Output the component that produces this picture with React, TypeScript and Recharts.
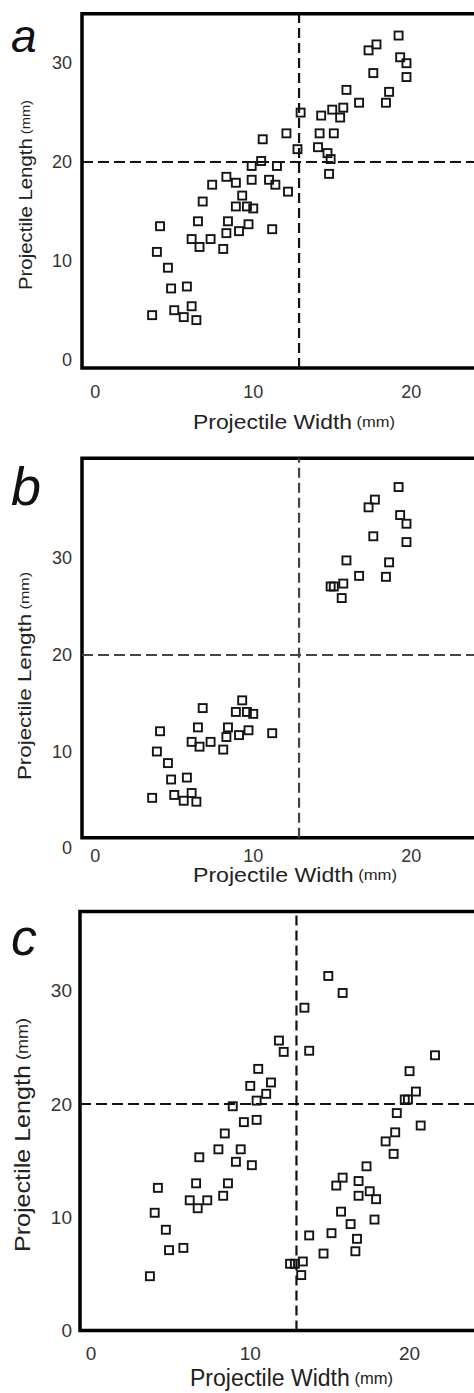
import React from "react";
import { ScatterChart, Scatter, XAxis, YAxis, ReferenceLine, ReferenceArea } from "recharts";

// [width, length] in mm for each projectile
const pointsA: [number, number][] = [
  [19.2, 32.8], [17.8, 31.9], [17.3, 31.3], [19.3, 30.6], [19.7, 30.0], [17.6, 29.0], [19.7, 28.6],
  [15.9, 27.3], [18.6, 27.1], [16.7, 26.0], [18.4, 26.0], [15.7, 25.5], [15.0, 25.3], [15.5, 24.5],
  [14.3, 24.7], [13.0, 25.0], [14.2, 22.9], [15.1, 22.9], [12.1, 22.9], [10.6, 22.3], [12.8, 21.3],
  [14.1, 21.5], [14.7, 20.9], [14.9, 20.3], [14.8, 18.8],
  [10.5, 20.1], [9.9, 19.6], [11.5, 19.6], [11.0, 18.2], [11.4, 17.7], [12.2, 17.0], [9.9, 18.2],
  [8.3, 18.5], [8.9, 17.9], [7.4, 17.7], [6.8, 16.0], [9.3, 16.6], [8.9, 15.5], [9.6, 15.5],
  [10.0, 15.3], [6.5, 14.0], [8.4, 14.0], [9.7, 13.7], [9.1, 13.0], [8.3, 12.8], [11.2, 13.2],
  [4.1, 13.5], [6.1, 12.2], [6.6, 11.4], [7.3, 12.2], [8.1, 11.2], [3.9, 10.9], [4.6, 9.3],
  [4.8, 7.2], [5.8, 7.4], [3.6, 4.5], [5.0, 5.0], [5.6, 4.3], [6.1, 5.4], [6.4, 4.0],
];

const pointsB: [number, number][] = [
  [19.2, 37.4], [17.7, 36.1], [17.3, 35.3], [19.3, 34.5], [19.7, 33.6], [17.6, 32.3], [19.7, 31.7],
  [15.9, 29.8], [18.6, 29.6], [16.7, 28.2], [18.4, 28.1], [14.9, 27.1], [15.1, 27.1], [15.7, 27.4],
  [15.6, 25.9],
  [9.3, 15.3], [6.8, 14.5], [8.9, 14.1], [9.6, 14.1], [10.0, 13.9], [6.5, 12.5], [8.4, 12.5],
  [9.7, 12.2], [9.1, 11.7], [8.3, 11.5], [11.2, 11.9], [4.1, 12.1], [6.1, 11.0], [6.6, 10.5],
  [7.3, 11.0], [8.1, 10.2], [3.9, 10.0], [4.6, 8.8], [4.8, 7.1], [5.8, 7.3], [3.6, 5.2],
  [5.0, 5.5], [5.6, 4.9], [6.1, 5.7], [6.4, 4.8],
];

const pointsC: [number, number][] = [
  [14.9, 31.3], [15.8, 29.8], [13.4, 28.5], [11.8, 25.6], [12.1, 24.6], [13.7, 24.7], [21.6, 24.3],
  [10.5, 23.1], [20.0, 22.9], [11.3, 21.9], [10.0, 21.6], [11.0, 20.9], [20.4, 21.1], [10.4, 20.3],
  [8.9, 19.8], [19.7, 20.4], [19.9, 20.4], [19.2, 19.2], [10.4, 18.6], [9.6, 18.4], [20.7, 18.1],
  [19.1, 17.5], [8.4, 17.4], [18.5, 16.7], [8.0, 16.0], [9.4, 16.0], [19.0, 15.6], [6.8, 15.3],
  [9.1, 14.9], [10.1, 14.6], [17.3, 14.5], [15.8, 13.5], [16.8, 13.2], [15.4, 12.8], [17.5, 12.3],
  [16.8, 11.9], [17.9, 11.6], [4.2, 12.6], [6.6, 13.0], [8.6, 13.0], [8.3, 11.9], [6.2, 11.5],
  [6.7, 10.8], [7.3, 11.5], [4.0, 10.4], [15.7, 10.5], [17.8, 9.8], [16.3, 9.4], [4.7, 8.9],
  [13.7, 8.4], [15.1, 8.6], [16.7, 8.1], [4.9, 7.1], [5.8, 7.3], [16.6, 7.0], [14.6, 6.8],
  [3.7, 4.8], [12.5, 5.9], [12.8, 5.9], [13.3, 6.1], [13.2, 4.9],
];

const xTicks = [0, 10, 20];
const yTicks = [0, 10, 20, 30];
const widthCut = 12.9;
const lengthCut = 20;

const FONT = "'Liberation Sans', Arial, Helvetica, sans-serif";
const CHART_W = 500;

function Square(props: any) {
  const { cx, cy } = props;
  if (cx == null || cy == null) return null;
  return <rect x={cx - 4} y={cy - 4} width={8} height={8} fill="none" stroke="#151515" strokeWidth={1.9} />;
}

function makeTick(size: number, anchor: "middle" | "end") {
  return (props: any) => (
    <text
      x={props.x}
      y={props.y}
      textAnchor={anchor}
      dominantBaseline="central"
      fontFamily={FONT}
      fontSize={size}
      fill="#333"
    >
      {props.payload.value}
    </text>
  );
}

// axis titles live in page coordinates so they can sit exactly where wanted
function AxisTitle({ x, y, vertical, length, size }: any) {
  return (
    <text
      x={x}
      y={y}
      transform={vertical ? `rotate(-90 ${x} ${y})` : undefined}
      textAnchor="middle"
      dominantBaseline="central"
      fontFamily={FONT}
      fontSize={size}
      fill="#222"
      textLength={length}
      lengthAdjust="spacingAndGlyphs"
    >
      {vertical ? "Projectile Length" : "Projectile Width"}
      <tspan fontSize={size * 0.72}> (mm)</tspan>
    </text>
  );
}

interface PanelProps {
  points: [number, number][];
  top: number;
  height: number;
  plotTop: number;
  plotBottom: number;
  yAxisWidth: number;
  xDomain: [number, number];
  yDomain: [number, number];
  xTickOffset: number;
  yTickOffset: number;
  tickSize: number;
  lineColor: string;
}

function Panel(p: PanelProps) {
  const data = p.points.map(([w, l]) => ({ w, l }));
  return (
    <div style={{ position: "absolute", left: 0, top: p.top }}>
      <ScatterChart
        width={CHART_W}
        height={p.height}
        margin={{ top: p.plotTop, right: 0, bottom: 0, left: 0 }}
      >
        <XAxis
          type="number"
          dataKey="w"
          domain={p.xDomain}
          allowDataOverflow
          ticks={xTicks}
          interval={0}
          height={p.height - p.plotBottom}
          axisLine={false}
          tickLine={false}
          tickSize={0}
          tickMargin={p.xTickOffset}
          tick={makeTick(p.tickSize, "middle")}
        />
        <YAxis
          type="number"
          dataKey="l"
          domain={p.yDomain}
          allowDataOverflow
          ticks={yTicks}
          interval={0}
          width={p.yAxisWidth}
          axisLine={false}
          tickLine={false}
          tickSize={0}
          tickMargin={p.yTickOffset}
          tick={makeTick(p.tickSize, "end")}
        />
        <ReferenceArea
          x1={p.xDomain[0]}
          x2={p.xDomain[1]}
          y1={p.yDomain[0]}
          y2={p.yDomain[1]}
          fill="none"
          stroke="#000"
          strokeWidth={3.5}
          ifOverflow="visible"
        />
        <ReferenceLine x={widthCut} stroke={p.lineColor} strokeWidth={2.2} strokeDasharray="10 5" />
        <ReferenceLine y={lengthCut} stroke={p.lineColor} strokeWidth={2.2} strokeDasharray="11 5" />
        <Scatter data={data} shape={Square} isAnimationActive={false} />
      </ScatterChart>
    </div>
  );
}

export default function App() {
  return (
    <div
      style={{
        position: "absolute",
        left: 0,
        top: 0,
        width: 474,
        height: 1393,
        overflow: "hidden",
        background: "#fff",
      }}
    >
      <Panel
        points={pointsA}
        top={0}
        height={440}
        plotTop={13.8}
        plotBottom={368}
        yAxisWidth={82}
        xDomain={[-0.84, 25.62]}
        yDomain={[-0.85, 35]}
        xTickOffset={23.7}
        yTickOffset={10}
        tickSize={18}
        lineColor="#111"
      />
      <Panel
        points={pointsB}
        top={440}
        height={450}
        plotTop={18.3}
        plotBottom={397.7}
        yAxisWidth={82}
        xDomain={[-0.84, 25.62]}
        yDomain={[1.07, 40.38]}
        xTickOffset={18.3}
        yTickOffset={10}
        tickSize={18}
        lineColor="#444"
      />
      <Panel
        points={pointsC}
        top={890}
        height={503}
        plotTop={21.4}
        plotBottom={440.6}
        yAxisWidth={80}
        xDomain={[-0.69, 25.68]}
        yDomain={[0, 37]}
        xTickOffset={22.4}
        yTickOffset={8}
        tickSize={19}
        lineColor="#111"
      />
      <svg
        width={474}
        height={1393}
        style={{ position: "absolute", left: 0, top: 0, pointerEvents: "none" }}
      >
        <g fontFamily={FONT} fontStyle="italic" fill="#111">
          <text x={11} y={52} fontSize={46}>a</text>
          <text x={11} y={505} fontSize={54}>b</text>
          <text x={11} y={955} fontSize={52}>c</text>
        </g>
        <AxisTitle x={294} y={421} length={202} size={21} />
        <AxisTitle vertical x={25} y={195} length={190} size={19} />
        <AxisTitle x={295} y={875} length={204} size={20} />
        <AxisTitle vertical x={24} y={676} length={208} size={19} />
        <AxisTitle x={291.5} y={1378} length={203} size={23} />
        <AxisTitle vertical x={22} y={1135} length={234} size={22} />
      </svg>
    </div>
  );
}
